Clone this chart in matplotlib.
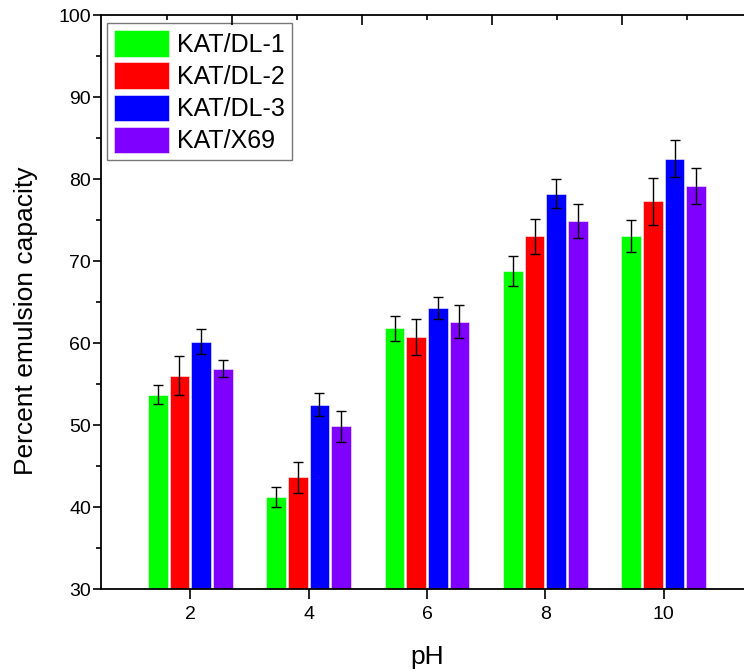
import matplotlib
matplotlib.use("Agg")
import matplotlib.pyplot as plt
from matplotlib.ticker import MultipleLocator, FixedLocator
import numpy as np

plt.rcParams['font.family'] = ['Liberation Sans', 'DejaVu Sans']

ph = [2, 4, 6, 8, 10]
series = ["KAT/DL-1", "KAT/DL-2", "KAT/DL-3", "KAT/X69"]
colors = ["#00FF00", "#FF0000", "#0000FF", "#8000FF"]

dl1 = [53.7, 41.25, 61.8, 68.75, 73.05]
dl2 = [56.0, 43.6, 60.7, 73.0, 77.3]
dl3 = [60.15, 52.5, 64.25, 78.2, 82.5]
x69 = [56.85, 49.85, 62.6, 74.9, 79.15]

dl1_err = [1.15, 1.25, 1.55, 1.85, 2.0]
dl2_err = [2.4, 1.9, 2.2, 2.15, 2.85]
dl3_err = [1.55, 1.45, 1.3, 1.75, 2.3]
x69_err = [1.05, 1.9, 2.05, 2.1, 2.15]

values = [dl1, dl2, dl3, x69]
errors = [dl1_err, dl2_err, dl3_err, x69_err]

W, H = 744, 672
fig = plt.figure(figsize=(W / 100, H / 100), dpi=100)
left, right, top, bottom = 101.5, 752.5, 15, 589
ax = fig.add_axes([left / W, 1 - bottom / H, (right - left) / W, (bottom - top) / H])

pitch = 0.366
bw = 0.335
x = np.array(ph, dtype=float)
for i, (vals, errs, c, name) in enumerate(zip(values, errors, colors, series)):
    ax.bar(x + (i - 1.5) * pitch, vals, width=bw, color=c, edgecolor=(1, 1, 1, 0.6),
           linewidth=0.6, label=name, zorder=2)
    ax.errorbar(x + (i - 1.5) * pitch, vals, yerr=errs, fmt='none', ecolor='black',
                elinewidth=1.0, capsize=3.8, capthick=1.0, zorder=3)

ax.set_xlim(0.5, 11.5)
ax.set_ylim(30, 100)
ax.set_xticks(ph)
ax.set_xticklabels([str(p) for p in ph])
ax.yaxis.set_major_locator(MultipleLocator(10))
ax.yaxis.set_minor_locator(MultipleLocator(5))

for s in ax.spines.values():
    s.set_linewidth(1.3)

ax.tick_params(axis='y', which='major', direction='out', length=6, width=1.2,
               labelsize=14, pad=1.5)
ax.tick_params(axis='y', which='minor', direction='out', length=3.5, width=1.2)
ax.tick_params(axis='x', which='major', direction='out', length=7, width=1.2,
               labelsize=14, pad=5)

ax.set_ylabel("Percent emulsion capacity", fontsize=19)
ax.yaxis.set_label_coords(-0.098, 0.467)
ax.set_xlabel("pH", fontsize=19)
ax.xaxis.set_label_coords(0.5, -0.097)

# top axis with inward ticks
axt = ax.twiny()
axt.set_xlim(0, 5)
axt.xaxis.set_major_locator(FixedLocator([1, 2, 3, 4]))
axt.xaxis.set_minor_locator(FixedLocator([0.5, 1.5, 2.5, 3.5, 4.5]))
axt.tick_params(axis='x', which='major', direction='in', length=7, width=1.2, labeltop=False)
axt.tick_params(axis='x', which='minor', direction='in', length=3.5, width=1.2)
axt.set_ylim(30, 100)
axt.yaxis.set_major_locator(MultipleLocator(10))
axt.tick_params(axis='y', which='both', left=False, right=True, labelleft=False, labelright=False,
                direction='in', length=7, width=1.2, color='#777777')
for s in axt.spines.values():
    s.set_visible(False)

leg = ax.legend(loc='upper left', bbox_to_anchor=(0.008, 0.9855), borderaxespad=0,
                fontsize=18, frameon=True, fancybox=False, shadow=False,
                handlelength=2.2, handleheight=1.25, handletextpad=0.33,
                labelspacing=0.22, borderpad=0.28)
leg.get_frame().set_edgecolor('#555555')
leg.get_frame().set_linewidth(1.0)

fig.savefig("out.png", dpi=100)
